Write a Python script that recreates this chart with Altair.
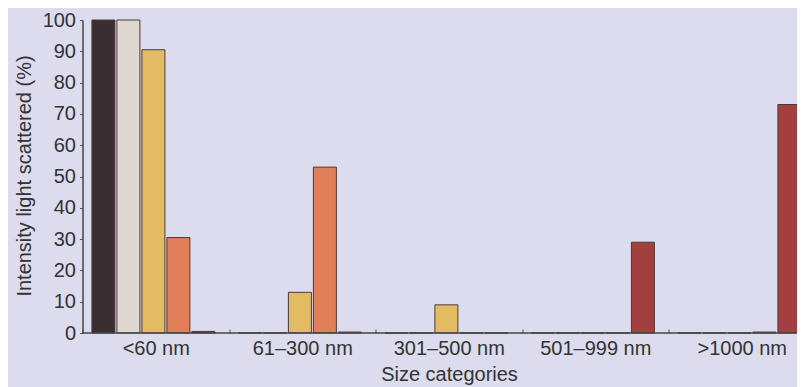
import altair as alt
import pandas as pd

categories = ["<60 nm", "61–300 nm", "301–500 nm", "501–999 nm", ">1000 nm"]
series = ["S1", "S2", "S3", "S4", "S5"]
colors = ["#3a2e33", "#ded8d0", "#e3bb62", "#e07f58", "#a3403f"]
values = {
    "S1": [100, 0, 0, 0, 0],
    "S2": [100, 0, 0, 0, 0],
    "S3": [90.5, 13, 9, 0, 0],
    "S4": [30.5, 53, 0, 0, 0.3],
    "S5": [0.5, 0.3, 0, 29, 73],
}
y_ticks = [0, 10, 20, 30, 40, 50, 60, 70, 80, 90, 100]

rows = []
for s in series:
    for c, v in zip(categories, values[s]):
        rows.append({"category": c, "series": s, "value": v})
df = pd.DataFrame(rows)

FONT = "Liberation Sans"
TXT = "#333333"
BG = "#dcdcee"

y_axis = alt.Axis(
    title="Intensity light scattered (%)",
    values=y_ticks,
    labelOverlap=False,
    grid=False,
    titleFont=FONT,
    titleFontSize=20,
    titleFontWeight="normal",
    titleColor=TXT,
    titleX=-58,
    titleY=155.5,
    titleAngle=270,
    titleAlign="center",
    titleBaseline="middle",
    labelFont=FONT,
    labelFontSize=20,
    labelColor=TXT,
    labelPadding=4,
    tickSize=3,
    tickColor="#555555",
    domainColor="#444444",
    domainWidth=1.5,
)
y_scale = alt.Scale(domain=[0, 100], nice=False)

bars = alt.Chart(df).mark_bar(stroke="#4a3a3a", strokeWidth=1).encode(
    x=alt.X(
        "category:N",
        sort=categories,
        scale=alt.Scale(range=[0, 732.5], paddingInner=0, paddingOuter=0),
        axis=alt.Axis(
            title="Size categories",
            titleX=366.5,
            titleY=45,
            titleBaseline="middle",
            titleFontSize=20,
            titleFontWeight="normal",
            titleFont=FONT,
            titleColor=TXT,
            labelAngle=0,
            labelFont=FONT,
            labelFontSize=20,
            labelColor=TXT,
            labelPadding=5,
            offset=-4,
            domain=False,
            ticks=True,
            tickBand="extent",
            tickSize=4,
            tickColor="#555555",
        ),
    ),
    xOffset=alt.XOffset(
        "series:N",
        sort=series,
        scale=alt.Scale(paddingInner=0.08, paddingOuter=0.47, align=0.4),
    ),
    y=alt.Y("value:Q", scale=y_scale, axis=y_axis),
    color=alt.Color("series:N", scale=alt.Scale(domain=series, range=colors), legend=None),
)

baseline = alt.Chart(pd.DataFrame({"value": [0]})).mark_rule(color="#444444", strokeWidth=1.5).encode(
    y=alt.Y("value:Q", scale=y_scale, axis=y_axis),
    x=alt.value(0),
    x2=alt.value(740),
)

chart = (
    alt.layer(bars, baseline)
    .properties(
        width=714,
        height=313,
        autosize=alt.AutoSizeParams(type="none"),
        padding={"left": 74.5, "top": 12, "right": 0, "bottom": 54},
        background=BG,
    )
    .configure_view(stroke=None, fill=BG)
)

chart.save("out.html", embed_options={"renderer": "svg", "actions": False})
